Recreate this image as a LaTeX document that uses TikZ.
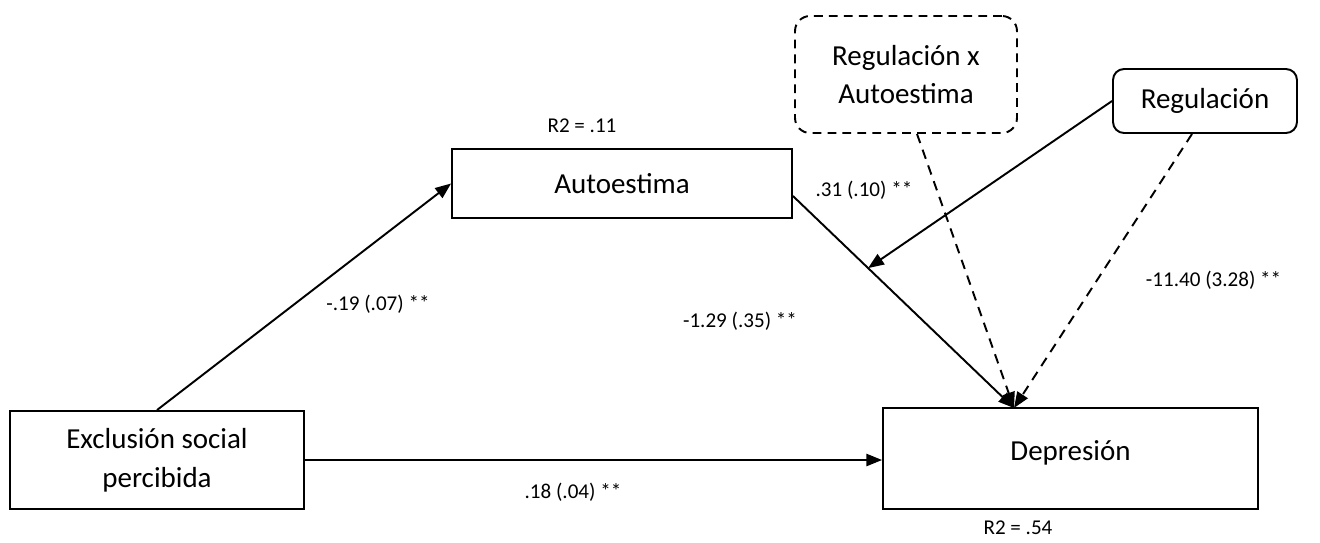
\documentclass[tikz,border=0pt]{standalone}
\usepackage{fontspec}
\setmainfont{Carlito}
\usetikzlibrary{arrows.meta}
\begin{document}
\begin{tikzpicture}[x=0.02cm,y=-0.02cm,line width=1.1pt,
    >={Triangle[length=9pt,width=7pt]},
    vb/.style={shape=rectangle,draw=black,align=center,font=\fontsize{16.5}{22}\selectfont},
    mb/.style={vb,rounded corners=0.22cm},
    ib/.style={vb,rounded corners=0.3cm,dash pattern=on 5pt off 3.5pt},
    lb/.style={font=\fontsize{12}{14}\selectfont},
    dl/.style={dash pattern=on 5.5pt off 4pt}]
    \useasboundingbox (0,0) rectangle (1320,542);

    \node[vb,minimum width=5.88cm,minimum height=1.96cm] (ex) at (157,460) {Exclusión social\\percibida};
    \node[vb,minimum width=6.8cm,minimum height=1.38cm] (au) at (622,183.5) {Autoestima};
    \node[vb,minimum width=7.5cm,inner ysep=0pt,text height=1.04cm,text depth=0.98cm] (de) at (1070.5,458.5) {Depresión};
    \node[ib,minimum width=4.44cm,minimum height=2.34cm] (ra) at (906,74.5) {Regulación x\\Autoestima};
    \node[mb,minimum width=3.68cm,minimum height=1.28cm] (re) at (1205,101) {Regulación};

    \coordinate (dt) at (1014,408);
    \coordinate (as) at ([yshift=-0.25cm]au.east);
    \path (as) -- (dt) coordinate[pos=0.34] (md);

    \path[->] (ex.north) edge (au.west);
    \path[->] (ex.east) edge (de.west |- ex.east);
    \path[->] (as) edge (dt);
    \path[->] (re.west) edge (md);
    \path[->,dl] ([xshift=0.22cm]ra.south) edge (dt);
    \path[->,dl] ([xshift=-0.26cm]re.south) edge (dt);

    \node[lb] (r1) at (582,126) {R2 = .11};
    \node[lb,anchor=south] (r2) at (1018,541) {R2 = .54};
    \node[lb] (c1) at (378,304) {-.19 (.07) **};
    \node[lb] (c2) at (573,492) {.18 (.04) **};
    \node[lb] (c3) at (740,321) {-1.29 (.35) **};
    \node[lb] (c4) at (864,190) {.31 (.10) **};
    \node[lb,anchor=east] (c5) at (1288,280) {-11.40 (3.28) **};

  \end{tikzpicture}
\end{document}
